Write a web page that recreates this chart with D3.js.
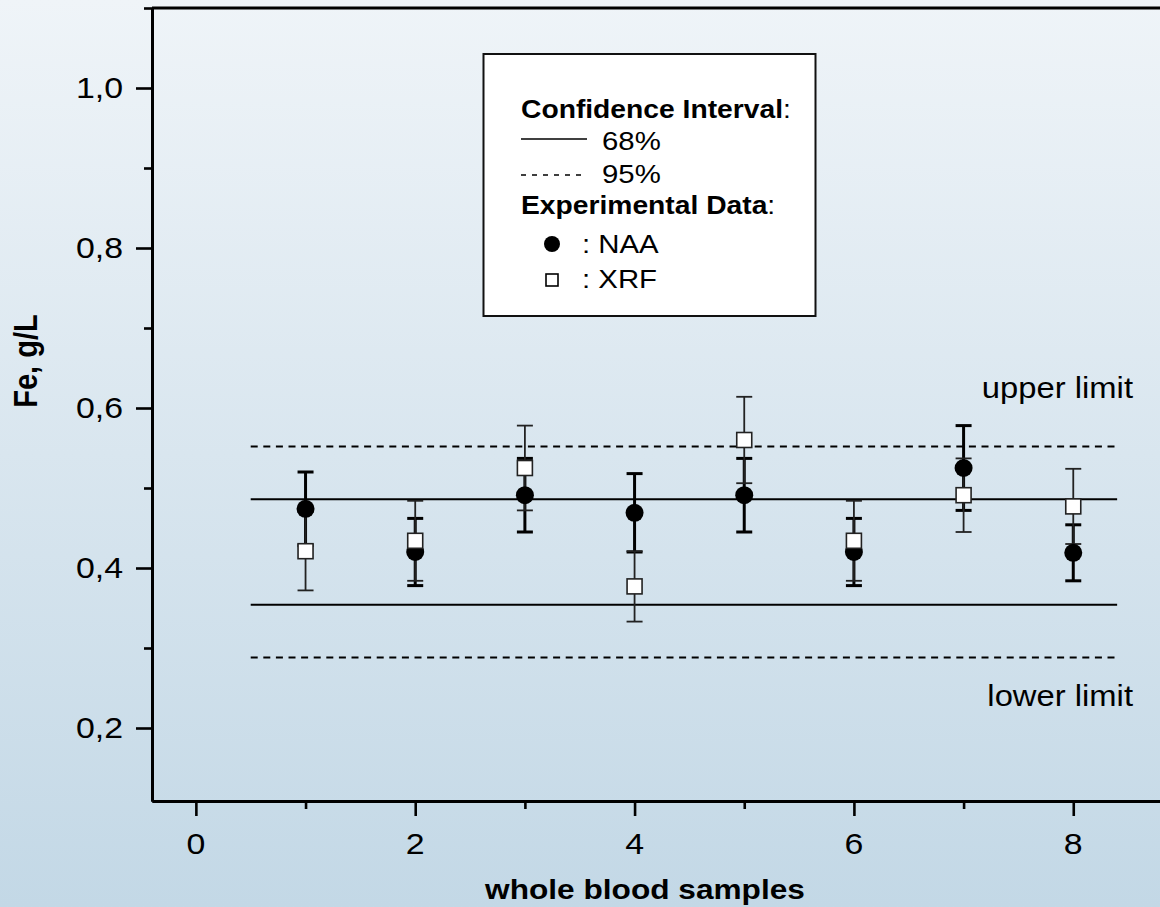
<!DOCTYPE html>
<html>
<head>
<meta charset="utf-8">
<script src="https://cdn.jsdelivr.net/npm/d3@7"></script>
<style>
  html, body { margin: 0; padding: 0; }
  body { width: 1160px; height: 907px; overflow: hidden; }
  svg { display: block; font-family: "Liberation Sans", Arial, Helvetica, sans-serif; }
</style>
</head>
<body>
<svg id="chart" width="1160" height="907"></svg>
<script>
// Fe concentration in whole blood samples: NAA vs XRF with confidence bands
const samples = [1, 2, 3, 4, 5, 6, 7, 8];
const naaValues = [0.474, 0.420, 0.491, 0.469, 0.491, 0.420, 0.525, 0.419];
const naaErrors = [0.046, 0.042, 0.046, 0.049, 0.046, 0.042, 0.053, 0.035];
const xrfValues = [0.421, 0.434, 0.525, 0.377, 0.560, 0.434, 0.491, 0.477];
const xrfErrors = [0.049, 0.050, 0.053, 0.044, 0.054, 0.050, 0.046, 0.047];

// confidence interval limits (lower, upper)
const ci68 = [0.354, 0.486];
const ci95 = [0.288, 0.552];
const bandSpan = [0.5, 8.4];

const xMajorTicks = [0, 2, 4, 6, 8];
const xMinorTicks = [1, 3, 5, 7];
const yMajorTicks = [0.2, 0.4, 0.6, 0.8, 1.0];
const yMinorTicks = [0.3, 0.5, 0.7, 0.9, 1.1];

const W = 1160, H = 907;
const SX = 1.13; // horizontal glyph stretch

const svg = d3.select("#chart");

// background gradient
const defs = svg.append("defs");
const grad = defs.append("linearGradient").attr("id", "bg")
  .attr("x1", 0).attr("y1", 0).attr("x2", 0).attr("y2", 1);
grad.append("stop").attr("offset", "0%").attr("stop-color", "#eff4f8");
grad.append("stop").attr("offset", "100%").attr("stop-color", "#c3d8e6");
svg.append("rect").attr("width", W).attr("height", H).attr("fill", "url(#bg)");

const x = d3.scaleLinear().domain([-0.4, 8.8]).range([152, 1161]);
const y = d3.scaleLinear().domain([0.10875, 1.1]).range([801, 8]);

const comma = d3.formatLocale({ decimal: ",", thousands: ".", grouping: [3], currency: ["", ""] }).format(".1f");

function label(g, txt, px, py, opts) {
  const o = Object.assign({ size: 30, weight: "normal", anchor: "start", rotate: 0 }, opts || {});
  const t = g.append("text")
    .attr("transform", o.rotate
      ? `translate(${px},${py}) rotate(${o.rotate}) scale(1,${SX})`
      : `translate(${px},${py}) scale(${SX},1)`)
    .attr("font-size", o.size)
    .attr("font-weight", o.weight)
    .attr("text-anchor", o.anchor)
    .attr("fill", "#000")
    .text(txt);
  return t;
}

// ---- axes ----
const axes = svg.append("g");

const yAxis = axes.append("g").attr("transform", `translate(${x(-0.4)},0)`)
  .call(d3.axisLeft(y).tickValues(yMajorTicks).tickSize(16).tickSizeOuter(0).tickFormat(""));
const yMinor = axes.append("g").attr("transform", `translate(${x(-0.4)},0)`)
  .call(d3.axisLeft(y).tickValues(yMinorTicks).tickSize(8).tickSizeOuter(0).tickFormat(""));

const xAxis = axes.append("g").attr("transform", `translate(0,${y.range()[0]})`)
  .call(d3.axisBottom(x).tickValues(xMajorTicks).tickSize(15).tickSizeOuter(0).tickFormat(""));
const xMinor = axes.append("g").attr("transform", `translate(0,${y.range()[0]})`)
  .call(d3.axisBottom(x).tickValues(xMinorTicks).tickSize(8).tickSizeOuter(0).tickFormat(""));

axes.selectAll(".tick line").attr("stroke", "#000").attr("stroke-width", 2.6);
axes.selectAll(".domain").attr("stroke", "#000").attr("stroke-width", 3);

// top frame line
axes.append("line")
  .attr("x1", x(-0.4)).attr("x2", W)
  .attr("y1", y(1.1)).attr("y2", y(1.1))
  .attr("stroke", "#000").attr("stroke-width", 3);

// tick labels
const tl = svg.append("g");
yMajorTicks.forEach(v => label(tl, comma(v), 123, y(v) + 9.5, { anchor: "end" }));
xMajorTicks.forEach(v => label(tl, String(v), x(v), 854, { anchor: "middle" }));

// axis titles
label(svg, "whole blood samples", 645, 899, { size: 28, weight: "bold", anchor: "middle" });
label(svg, "Fe, g/L", 37, 361, { size: 29, weight: "bold", anchor: "middle", rotate: -90 });

// ---- confidence interval lines ----
const bands = svg.append("g");
ci68.forEach(v => bands.append("line")
  .attr("x1", x(bandSpan[0])).attr("x2", x(bandSpan[1]))
  .attr("y1", y(v)).attr("y2", y(v))
  .attr("stroke", "#000").attr("stroke-width", 2));
ci95.forEach(v => bands.append("line")
  .attr("x1", x(bandSpan[0])).attr("x2", x(bandSpan[1]))
  .attr("y1", y(v)).attr("y2", y(v))
  .attr("stroke", "#000").attr("stroke-width", 2)
  .attr("stroke-dasharray", "7,5.6"));

label(svg, "upper limit", 1133, 398, { size: 29, anchor: "end" });
label(svg, "lower limit", 1133, 706, { size: 29, anchor: "end" });

// ---- error bars ----
function errorBars(vals, errs, width, color) {
  const g = svg.append("g").attr("stroke", color).attr("stroke-width", width);
  samples.forEach((s, i) => {
    const cx = x(s), top = y(vals[i] + errs[i]), bot = y(vals[i] - errs[i]);
    g.append("line").attr("x1", cx).attr("x2", cx).attr("y1", top).attr("y2", bot);
    g.append("line").attr("x1", cx - 8).attr("x2", cx + 8).attr("y1", top).attr("y2", top);
    g.append("line").attr("x1", cx - 8).attr("x2", cx + 8).attr("y1", bot).attr("y2", bot);
  });
}
errorBars(naaValues, naaErrors, 3, "#000");
errorBars(xrfValues, xrfErrors, 1.8, "#222");

// ---- markers ----
svg.append("g").selectAll("circle").data(samples).join("circle")
  .attr("cx", d => x(d)).attr("cy", (d, i) => y(naaValues[i]))
  .attr("r", 9).attr("fill", "#000");

svg.append("g").selectAll("rect").data(samples).join("rect")
  .attr("x", d => x(d) - 7.5).attr("y", (d, i) => y(xrfValues[i]) - 7.5)
  .attr("width", 15).attr("height", 15)
  .attr("fill", "#fff").attr("stroke", "#222").attr("stroke-width", 1.6);

// ---- legend ----
const lg = svg.append("g");
lg.append("rect").attr("x", 483.5).attr("y", 54).attr("width", 332).attr("height", 262)
  .attr("fill", "#fff").attr("stroke", "#111").attr("stroke-width", 2);

const t1 = label(lg, "", 521, 118, { size: 25, weight: "bold" });
t1.append("tspan").text("Confidence Interval");
t1.append("tspan").attr("font-weight", "normal").text(":");

lg.append("line").attr("x1", 521).attr("x2", 587).attr("y1", 139).attr("y2", 139)
  .attr("stroke", "#000").attr("stroke-width", 1.5);
label(lg, "68%", 602, 150, { size: 26 });

lg.append("line").attr("x1", 521).attr("x2", 587).attr("y1", 175).attr("y2", 175)
  .attr("stroke", "#000").attr("stroke-width", 1.3).attr("stroke-dasharray", "5,6");
label(lg, "95%", 602, 183, { size: 26 });

const t2 = label(lg, "", 521, 214, { size: 25, weight: "bold" });
t2.append("tspan").text("Experimental Data");
t2.append("tspan").attr("font-weight", "normal").text(":");

lg.append("circle").attr("cx", 552).attr("cy", 244).attr("r", 8).attr("fill", "#000");
label(lg, ": NAA", 582, 253, { size: 26 });

lg.append("rect").attr("x", 546).attr("y", 274).attr("width", 12).attr("height", 12)
  .attr("fill", "#fff").attr("stroke", "#000").attr("stroke-width", 1.6);
label(lg, ": XRF", 582, 288, { size: 26 });
</script>
</body>
</html>
